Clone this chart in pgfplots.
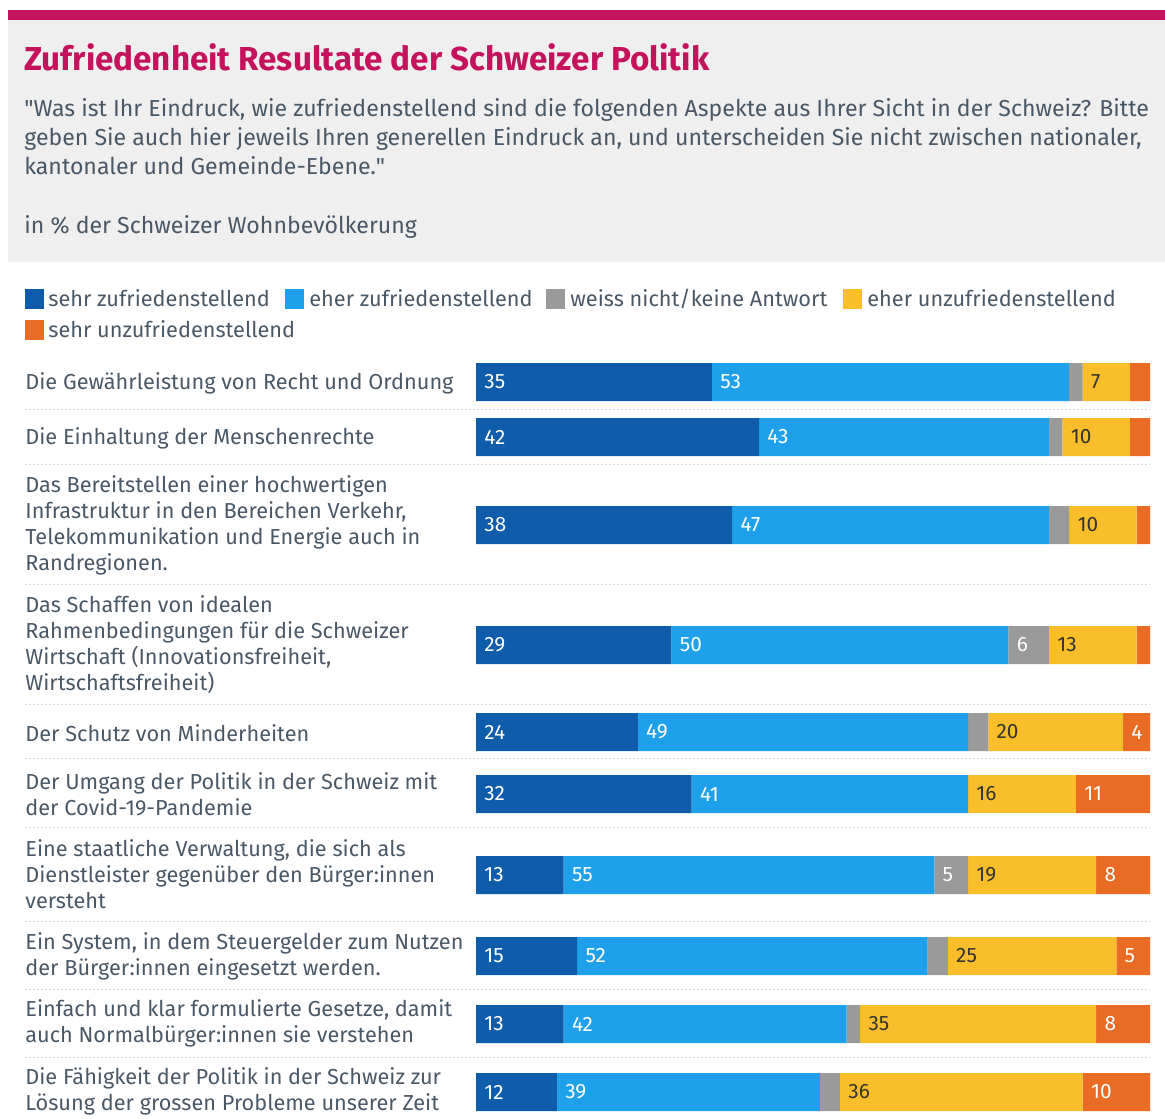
\documentclass[border=0pt]{standalone}
\usepackage{pgfplots}
\pgfplotsset{compat=1.18}
\usepackage{pgfplotstable}
\usepackage{fontspec}
\setmainfont{Fira Sans}
\definecolor{dblue}{HTML}{0F5CAA}
\definecolor{lblue}{HTML}{1EA1EA}
\definecolor{cgrey}{HTML}{9A9A9A}
\definecolor{cyellow}{HTML}{FBBE2B}
\definecolor{corange}{HTML}{E96B24}
\definecolor{mag}{HTML}{C4125D}
\definecolor{txt}{HTML}{4A5866}
\definecolor{boxgrey}{HTML}{EFEFEF}
\definecolor{sep}{HTML}{D8D8D8}
\definecolor{dtxt}{HTML}{333333}

\pgfplotstableread{
y s1 s2 s3 s4 s5
382 35 53 2 7 3
437 42 43 2 10 3
525 38 47 3 10 2
645 29 50 6 13 2
732 24 49 3 20 4
794 32 41 0 16 11
875 13 55 5 19 8
956 15 52 3 25 5
1024 13 42 2 35 8
1092 12 39 3 36 10
}\data

\pgfplotstableread{
x y t
0 382 35
35 382 53
0 437 42
42 437 43
0 525 38
38 525 47
0 645 29
29 645 50
79 645 6
0 732 24
24 732 49
96 732 4
0 794 32
32 794 41
89 794 11
0 875 13
13 875 55
68 875 5
92 875 8
0 956 15
15 956 52
95 956 5
0 1024 13
13 1024 42
92 1024 8
0 1092 12
12 1092 39
90 1092 10
}\labW

\pgfplotstableread{
x y t
90 382 7
87 437 10
88 525 10
85 645 13
76 732 20
73 794 16
73 875 19
70 956 25
57 1024 35
54 1092 36
}\labY

\newcommand{\lab}{\fontsize{10.85}{13}\selectfont}

\begin{document}
\begin{tikzpicture}
\begin{scope}[x=0.5pt,y=-0.5pt]
\useasboundingbox (0,0) rectangle (1165,1118);
% header
\fill[mag] (8,10) rectangle (1165,20);
\fill[boxgrey] (8,20) rectangle (1165,262);
\node[anchor=base west, inner sep=0, text=mag, font=\fontsize{16.6}{19}\selectfont\bfseries] at (24,71) {Zufriedenheit Resultate der Schweizer Politik};
\begin{scope}[every node/.style={anchor=base west, inner sep=0, text=txt, font=\fontsize{11.55}{14}\selectfont}]
\node at (24,117) {\textquotedbl Was ist Ihr Eindruck, wie zufriedenstellend sind die folgenden Aspekte aus Ihrer Sicht in der Schweiz? Bitte};
\node at (24,146) {geben Sie auch hier jeweils Ihren generellen Eindruck an, und unterscheiden Sie nicht zwischen nationaler,};
\node at (24,175) {kantonaler und Gemeinde-Ebene.\textquotedbl};
\node at (24,233) {in \% der Schweizer Wohnbevölkerung};
\end{scope}
% legend
\begin{scope}[every node/.style={anchor=base west, inner sep=0, text=txt, font=\lab}]
\fill[dblue] (25,289) rectangle (44,309); \node at (48,306) {sehr zufriedenstellend};
\fill[lblue] (285,289) rectangle (304,309); \node at (309,306) {eher zufriedenstellend};
\fill[cgrey] (546,289) rectangle (565,309); \node at (570,306) {weiss nicht/keine Antwort};
\fill[cyellow] (843,289) rectangle (862,309); \node at (867,306) {eher unzufriedenstellend};
\fill[corange] (25,320) rectangle (44,340); \node at (48,337) {sehr unzufriedenstellend};
\end{scope}
% separators
\foreach \yy in {409,464,584,704,758,827,921,989,1057}
  \draw[sep, line width=0.5pt, dash pattern=on 1pt off 1pt] (25,\yy) -- (1150,\yy);
% category labels
\begin{scope}[every node/.style={anchor=west, align=left, inner sep=0, text=txt, font=\lab}]
\node at (25,383) {Die Gewährleistung von Recht und Ordnung};
\node at (25,438) {Die Einhaltung der Menschenrechte};
\node at (25,525) {Das Bereitstellen einer hochwertigen\\Infrastruktur in den Bereichen Verkehr,\\Telekommunikation und Energie auch in\\Randregionen.};
\node at (25,645) {Das Schaffen von idealen\\Rahmenbedingungen für die Schweizer\\Wirtschaft (Innovationsfreiheit,\\Wirtschaftsfreiheit)};
\node at (25,733) {Der Schutz von Minderheiten};
\node at (25,794) {Der Umgang der Politik in der Schweiz mit\\der Covid-19-Pandemie};
\node at (25,874) {Eine staatliche Verwaltung, die sich als\\Dienstleister gegenüber den Bürger:innen\\versteht};
\node at (25,956) {Ein System, in dem Steuergelder zum Nutzen\\der Bürger:innen eingesetzt werden.};
\node at (25,1023) {Einfach und klar formulierte Gesetze, damit\\auch Normalbürger:innen sie verstehen};
\node at (25,1091) {Die Fähigkeit der Politik in der Schweiz zur\\Lösung der grossen Probleme unserer Zeit};
\end{scope}
\end{scope}

\pgfplotsset{myax/.style={at={(238pt,-170pt)}, anchor=north west, scale only axis, width=337pt, height=389pt, xmin=0, xmax=100, ymin=340, ymax=1118, y dir=reverse, axis lines=none, clip=false}}

\begin{axis}[myax, xbar stacked, bar width=19pt]
\addplot[fill=dblue, draw=none] table[x=s1,y=y]{\data};
\addplot[fill=lblue, draw=none] table[x=s2,y=y]{\data};
\addplot[fill=cgrey, draw=none] table[x=s3,y=y]{\data};
\addplot[fill=cyellow, draw=none] table[x=s4,y=y]{\data};
\addplot[fill=corange, draw=none] table[x=s5,y=y]{\data};
\end{axis}

\begin{axis}[myax]
\addplot[draw=none, nodes near coords={\pgfplotspointmeta}, point meta=explicit symbolic,
  nodes near coords style={anchor=west, xshift=4pt, inner sep=0, text=white, font=\fontsize{10.4}{12}\selectfont}]
  table[x=x,y=y,meta=t]{\labW};
\addplot[draw=none, nodes near coords={\pgfplotspointmeta}, point meta=explicit symbolic,
  nodes near coords style={anchor=west, xshift=4pt, inner sep=0, text=dtxt, font=\fontsize{10.4}{12}\selectfont}]
  table[x=x,y=y,meta=t]{\labY};
\end{axis}
\end{tikzpicture}
\end{document}
